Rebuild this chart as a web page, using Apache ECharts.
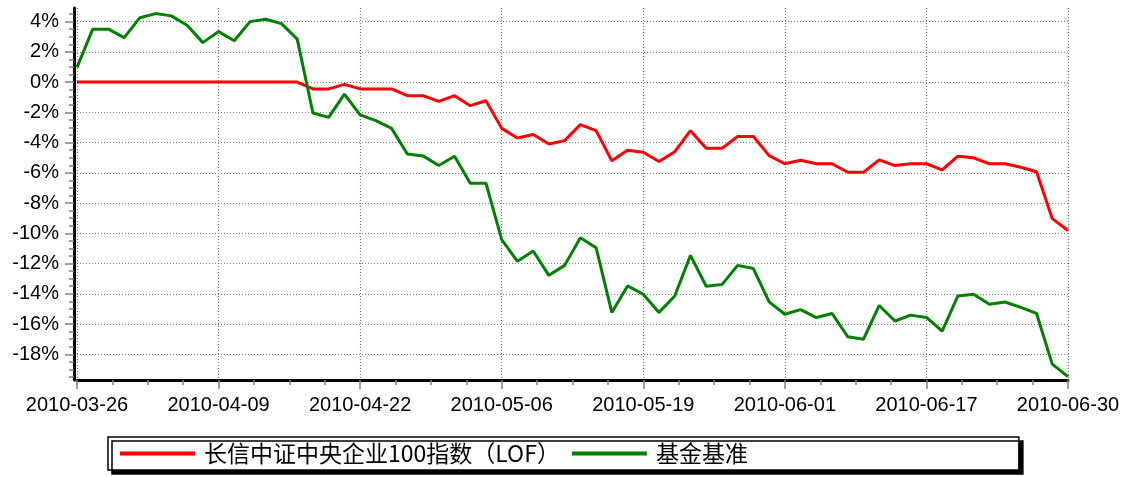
<!DOCTYPE html>
<html>
<head>
<meta charset="utf-8">
<title>长信中证中央企业100指数（LOF）</title>
<script src="https://cdn.jsdelivr.net/npm/echarts@6/dist/echarts.min.js"></script>
<style>
  html, body { margin: 0; padding: 0; background: #fff; }
  #chart { width: 1128px; height: 477px; }
</style>
</head>
<body>
<div id="chart"></div>
<script>
// 交易日
const dates = [
  '2010-03-26', '2010-03-29', '2010-03-30', '2010-03-31', '2010-04-01', '2010-04-02', '2010-04-06', '2010-04-07',
  '2010-04-08', '2010-04-09', '2010-04-12', '2010-04-13', '2010-04-14', '2010-04-15', '2010-04-16', '2010-04-19',
  '2010-04-20', '2010-04-21', '2010-04-22', '2010-04-23', '2010-04-26', '2010-04-27', '2010-04-28', '2010-04-29',
  '2010-04-30', '2010-05-04', '2010-05-05', '2010-05-06', '2010-05-07', '2010-05-10', '2010-05-11', '2010-05-12',
  '2010-05-13', '2010-05-14', '2010-05-17', '2010-05-18', '2010-05-19', '2010-05-20', '2010-05-21', '2010-05-24',
  '2010-05-25', '2010-05-26', '2010-05-27', '2010-05-28', '2010-05-31', '2010-06-01', '2010-06-02', '2010-06-03',
  '2010-06-04', '2010-06-07', '2010-06-08', '2010-06-09', '2010-06-10', '2010-06-11', '2010-06-17', '2010-06-18',
  '2010-06-21', '2010-06-22', '2010-06-23', '2010-06-24', '2010-06-25', '2010-06-28', '2010-06-29', '2010-06-30'
]

const fundName = '长信中证中央企业100指数（LOF）'
const benchName = '基金基准'

// 累计收益率 (%)
const fundValues = [
  0, 0, 0, 0, 0, 0, 0, 0, 0, 0, 0, 0, 0, 0, 0,
  -0.45, -0.45, -0.15, -0.45, -0.45, -0.45, -0.9, -0.9, -1.28, -0.9, -1.56, -1.23,
  -3.06, -3.7, -3.47, -4.09, -3.87, -2.81, -3.21, -5.2, -4.5, -4.64, -5.25, -4.6,
  -3.21, -4.38, -4.38, -3.6, -3.6, -4.86, -5.4, -5.17, -5.4, -5.4, -5.96, -5.96,
  -5.14, -5.52, -5.4, -5.4, -5.8, -4.9, -5.01, -5.4, -5.4, -5.63, -5.93, -9.03, -9.81
]
const benchValues = [
  0.97, 3.5, 3.5, 2.94, 4.26, 4.53, 4.38, 3.76, 2.61, 3.34, 2.73, 4.0, 4.16, 3.87, 2.84,
  -2.04, -2.33, -0.79, -2.17, -2.55, -3.06, -4.75, -4.88, -5.52, -4.9, -6.69, -6.69,
  -10.42, -11.85, -11.17, -12.78, -12.12, -10.29, -10.95, -15.23, -13.48, -14.03, -15.23, -14.14,
  -11.46, -13.5, -13.39, -12.12, -12.33, -14.53, -15.35, -15.05, -15.57, -15.3, -16.84, -17.0,
  -14.77, -15.8, -15.41, -15.56, -16.47, -14.14, -14.03, -14.69, -14.54, -14.9, -15.3, -18.65, -19.48
]

// 刻度
const yTicks = [-18, -16, -14, -12, -10, -8, -6, -4, -2, 0, 2, 4]
const yMin = -19.7
const yMax = 4.9

const yMinorTicks = []
for ( let v = -19.5; v <= 4.5; v += 0.5 ) {
  yMinorTicks.push( v )
}

const chart = echarts.init( document.getElementById( 'chart' ) )

chart.setOption( {
  backgroundColor : '#ffffff',
  animation : false,
  textStyle : {
    fontFamily : 'Liberation Sans, Arial, sans-serif'
  },
  legend : {
    left : 108,
    top : 437,
    data : [fundName, benchName],
    icon : 'rect',
    itemWidth : 75,
    itemHeight : 4,
    itemGap : 12,
    padding : [5, 271, 5, 12],
    backgroundColor : '#ffffff',
    borderColor : '#000000',
    borderWidth : 1.5,
    borderRadius : 0,
    shadowColor : '#000000',
    shadowBlur : 0,
    shadowOffsetX : 4,
    shadowOffsetY : 4,
    textStyle : {
      fontFamily : 'Noto Sans CJK SC',
      fontSize : 23,
      color : '#000000',
      padding : [0, 0, 0, 4]
    }
  },
  grid : {
    left : 77,
    right : 60,
    top : 8,
    bottom : 97
  },
  xAxis : [
    {
      type : 'category',
      position : 'bottom',
      boundaryGap : false,
      data : dates,
      axisLine : { show : false, onZero : false },
      axisTick : {
        interval : 8,
        length : 9,
        lineStyle : { color : '#808080', width : 1.5 }
      },
      axisLabel : {
        interval : 8,
        margin : 15,
        fontSize : 20,
        color : '#000000'
      },
      splitLine : {
        show : true,
        interval : 8,
        lineStyle : { color : '#808080', type : [1, 2], width : 1.2 }
      }
    },
    {
      // 次刻度
      type : 'value',
      position : 'bottom',
      min : 0,
      max : dates.length - 1,
      interval : 2.25,
      axisLine : { show : true, onZero : false, lineStyle : { color : '#000000', width : 3 } },
      axisTick : { show : true, length : 5, lineStyle : { color : '#808080', width : 1.5 } },
      axisLabel : { show : false },
      splitLine : { show : false }
    }
  ],
  yAxis : [
    {
      type : 'value',
      position : 'left',
      offset : 3,
      min : yMin,
      max : yMax,
      axisLine : { show : true, onZero : false, lineStyle : { color : '#000000', width : 3 } },
      axisTick : {
        show : true,
        length : 9,
        customValues : yTicks,
        lineStyle : { color : '#808080', width : 1.5 }
      },
      axisLabel : {
        customValues : yTicks,
        margin : 15,
        fontSize : 20,
        color : '#000000',
        formatter : v => v + '%'
      },
      splitLine : {
        show : true,
        lineStyle : { color : '#808080', type : [1, 2], width : 1.2 }
      }
    },
    {
      // 次刻度
      type : 'value',
      position : 'left',
      offset : 3,
      min : yMin,
      max : yMax,
      axisLine : { show : false, onZero : false },
      axisTick : {
        show : true,
        length : 5,
        customValues : yMinorTicks,
        lineStyle : { color : '#808080', width : 1.5 }
      },
      axisLabel : { show : false },
      splitLine : { show : false }
    }
  ],
  series : [
    {
      name : fundName,
      type : 'line',
      xAxisIndex : 0,
      yAxisIndex : 0,
      showSymbol : false,
      color : '#ff0000',
      lineStyle : { width : 3, color : '#ff0000' },
      data : fundValues
    },
    {
      name : benchName,
      type : 'line',
      xAxisIndex : 0,
      yAxisIndex : 0,
      showSymbol : false,
      color : '#008000',
      lineStyle : { width : 3, color : '#008000' },
      data : benchValues
    }
  ]
} )
</script>
</body>
</html>
